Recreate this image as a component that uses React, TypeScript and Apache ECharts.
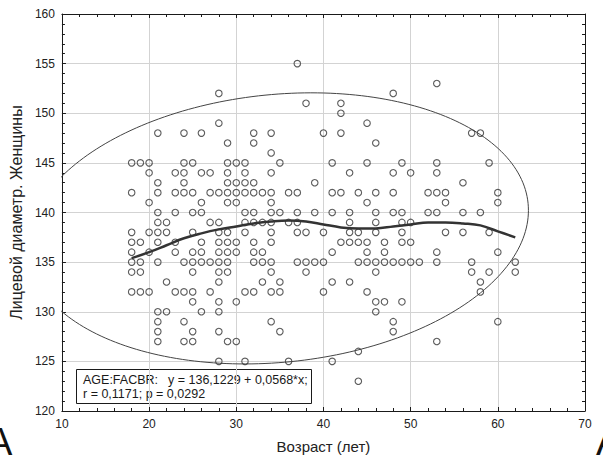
import React, { useEffect, useRef } from "react";
import * as echarts from "echarts";

// Scatter data: each value (face breadth) with the list of ages observed at it
const rowValues = [155, 153, 152, 151, 150, 149, 148, 147, 146, 145, 144, 143, 142, 141, 140, 139, 138, 137, 136, 135, 134, 133, 132, 131, 130, 129, 128, 127, 126, 125, 123];
const rowAges: number[][] = [
  [37],
  [53],
  [28, 48],
  [38, 42],
  [42],
  [28, 45],
  [21, 24, 26, 32, 34, 40, 42, 57, 58],
  [29, 32, 46],
  [34],
  [18, 19, 20, 24, 25, 29, 30, 31, 35, 41, 45, 49, 53, 59],
  [20, 23, 24, 26, 27, 29, 31, 34, 43, 48, 50, 53],
  [21, 24, 29, 30, 31, 32, 39, 56],
  [18, 21, 23, 24, 25, 27, 28, 29, 30, 31, 32, 33, 34, 36, 37, 41, 42, 44, 46, 48, 52, 53, 54, 60],
  [20, 26, 29, 30, 34, 45, 54, 60],
  [21, 23, 25, 26, 31, 32, 34, 35, 37, 39, 41, 43, 46, 48, 49, 52, 53, 56, 58],
  [21, 22, 27, 28, 31, 32, 33, 34, 36, 37, 43, 46, 49, 50],
  [18, 20, 21, 22, 25, 28, 29, 31, 34, 37, 38, 40, 43, 44, 46, 49, 54, 56, 59],
  [18, 19, 21, 23, 26, 28, 29, 30, 32, 34, 42, 43, 44, 45, 47, 49, 50],
  [18, 20, 23, 25, 26, 28, 29, 30, 32, 33, 41, 45, 47, 53, 60],
  [18, 19, 21, 24, 25, 26, 27, 28, 29, 32, 33, 34, 37, 38, 39, 40, 44, 45, 46, 47, 48, 49, 50, 51, 53, 57, 62],
  [18, 19, 25, 28, 29, 34, 38, 46, 57, 59, 62],
  [22, 28, 33, 35, 41, 43, 58],
  [18, 19, 20, 23, 24, 25, 27, 31, 32, 34, 35, 40, 45, 58],
  [25, 28, 30, 46, 47, 49],
  [21, 22, 26, 28, 46],
  [21, 24, 34, 48, 60],
  [21, 25, 28, 35, 48],
  [21, 24, 25, 29, 30, 53],
  [44],
  [28, 31, 36, 41],
  [44],
];

// Smoothed (LOWESS-like) curve
const curveAges = [18, 20, 22, 24, 26, 28, 30, 32, 34, 36, 38, 40, 42, 44, 46, 48, 50, 52, 54, 56, 58, 60, 62];
const curveValues = [135.4, 136.0, 136.7, 137.4, 137.9, 138.3, 138.6, 138.9, 139.1, 139.2, 139.1, 138.8, 138.5, 138.4, 138.4, 138.6, 138.8, 139.0, 139.0, 138.9, 138.7, 138.1, 137.5];

// 95% ellipse parameters (data units)
const ellipseCenter = [34.8, 138.4];
const ellipseSd = [11.73, 5.58];
const ellipseCorr = 0.133;
const ellipseChi2 = 5.991;

const xTicks = { min: 10, max: 70, interval: 10 };
const yTicks = { min: 120, max: 160, interval: 5 };

const statLine1a = "AGE:FACBR:";
const statLine1b = "y = 136,1229 + 0,0568*x;";
const statLine2 = "r = 0,1171; p = 0,0292";

const FONT = "'Liberation Sans', Arial, sans-serif";

function buildPoints(): number[][] {
  const pts: number[][] = [];
  rowValues.forEach((v, i) => {
    rowAges[i].forEach((a) => pts.push([a, v]));
  });
  return pts;
}

function buildEllipse(): number[][] {
  const k = Math.sqrt(ellipseChi2);
  const [mx, my] = ellipseCenter;
  const [sa, sv] = ellipseSd;
  const l11 = sa;
  const l21 = ellipseCorr * sv;
  const l22 = sv * Math.sqrt(1 - ellipseCorr * ellipseCorr);
  const out: number[][] = [];
  const N = 240;
  for (let i = 0; i <= N; i++) {
    const t = (i / N) * Math.PI * 2;
    const u = Math.cos(t), w = Math.sin(t);
    out.push([mx + k * l11 * u, my + k * (l21 * u + l22 * w)]);
  }
  return out;
}

export default function App() {
  const ref = useRef<HTMLDivElement>(null);
  useEffect(() => {
    document.body.style.margin = "0";
    const chart = echarts.init(ref.current!, null, { renderer: "svg" });
    const points = buildPoints();
    const ellipse = buildEllipse();
    const curve = curveAges.map((a, i) => [a, curveValues[i]]);

    const axisLine = { show: true, onZero: false, lineStyle: { color: "#1a1a1a", width: 1 } };
    const tick = { show: true, inside: true, length: 4, lineStyle: { color: "#1a1a1a", width: 1 } };
    const minorX = { show: true, splitNumber: 5, length: 3, lineStyle: { color: "#1a1a1a", width: 1 } };
    const minorY = { show: true, splitNumber: 5, length: 3, lineStyle: { color: "#1a1a1a", width: 1 } };

    chart.setOption({
      animation: false,
      backgroundColor: "#ffffff",
      textStyle: { fontFamily: FONT },
      grid: { left: 61, right: 18, top: 14, bottom: 48, containLabel: false },
      xAxis: [
        {
          type: "value",
          position: "bottom",
          ...xTicks,
          axisLine,
          axisTick: tick,
          minorTick: minorX,
          axisLabel: { fontSize: 12, color: "#222", margin: 7, fontFamily: FONT },
          splitLine: { show: true, lineStyle: { color: "#d3d3d3", width: 1 } },
          name: "Возраст (лет)",
          nameLocation: "middle",
          nameGap: 28,
          nameTextStyle: { fontSize: 15, color: "#222", fontFamily: FONT },
        },
        {
          type: "value",
          position: "top",
          ...xTicks,
          axisLine,
          axisTick: tick,
          minorTick: minorX,
          axisLabel: { show: false },
          splitLine: { show: false },
        },
      ],
      yAxis: [
        {
          type: "value",
          position: "left",
          ...yTicks,
          axisLine,
          axisTick: tick,
          minorTick: minorY,
          axisLabel: { fontSize: 12, color: "#222", margin: 7, fontFamily: FONT },
          splitLine: { show: true, lineStyle: { color: "#d3d3d3", width: 1 } },
          name: "Лицевой диаметр. Женщины",
          nameLocation: "middle",
          nameGap: 36,
          nameTextStyle: { fontSize: 16, color: "#222", fontFamily: FONT },
        },
        {
          type: "value",
          position: "right",
          ...yTicks,
          axisLine,
          axisTick: tick,
          minorTick: minorY,
          axisLabel: { show: false },
          splitLine: { show: false },
        },
      ],
      series: [
        {
          type: "line",
          data: ellipse,
          showSymbol: false,
          symbol: "none",
          clip: true,
          lineStyle: { color: "#444", width: 1 },
          z: 2,
          silent: true,
        },
        {
          type: "scatter",
          data: points,
          symbol: "circle",
          symbolSize: 6.5,
          itemStyle: { color: "rgba(255,255,255,0)", borderColor: "#333", borderWidth: 1.1 },
          z: 3,
        },
        {
          type: "line",
          data: curve,
          smooth: 0.4,
          showSymbol: false,
          symbol: "none",
          lineStyle: { color: "#333", width: 2.5 },
          z: 4,
          silent: true,
        },
      ],
      graphic: [
        {
          type: "group",
          z: 100,
          children: [
            {
              type: "rect",
              shape: { x: 76.5, y: 369.5, width: 235, height: 34 },
              style: { fill: "#fff", stroke: "#1a1a1a", lineWidth: 1 },
            },
            {
              type: "text",
              x: 83,
              y: 373,
              style: { text: statLine1a, fontSize: 12.5, fill: "#1a1a1a", fontFamily: FONT },
            },
            {
              type: "text",
              x: 168,
              y: 373,
              style: { text: statLine1b, fontSize: 12.5, fill: "#1a1a1a", fontFamily: FONT },
            },
            {
              type: "text",
              x: 83,
              y: 387,
              style: { text: statLine2, fontSize: 12.5, fill: "#1a1a1a", fontFamily: FONT },
            },
          ],
        },
        {
          type: "text",
          left: -13,
          top: 423,
          style: { text: "A", fontSize: 38, fill: "#111", fontFamily: FONT },
        },
        {
          type: "text",
          left: 596,
          top: 423,
          style: { text: "A", fontSize: 38, fill: "#111", fontFamily: FONT },
        },
      ],
    });
    return () => chart.dispose();
  }, []);
  return <div ref={ref} style={{ width: 603, height: 459, position: "absolute", left: 0, top: 0 }} />;
}
